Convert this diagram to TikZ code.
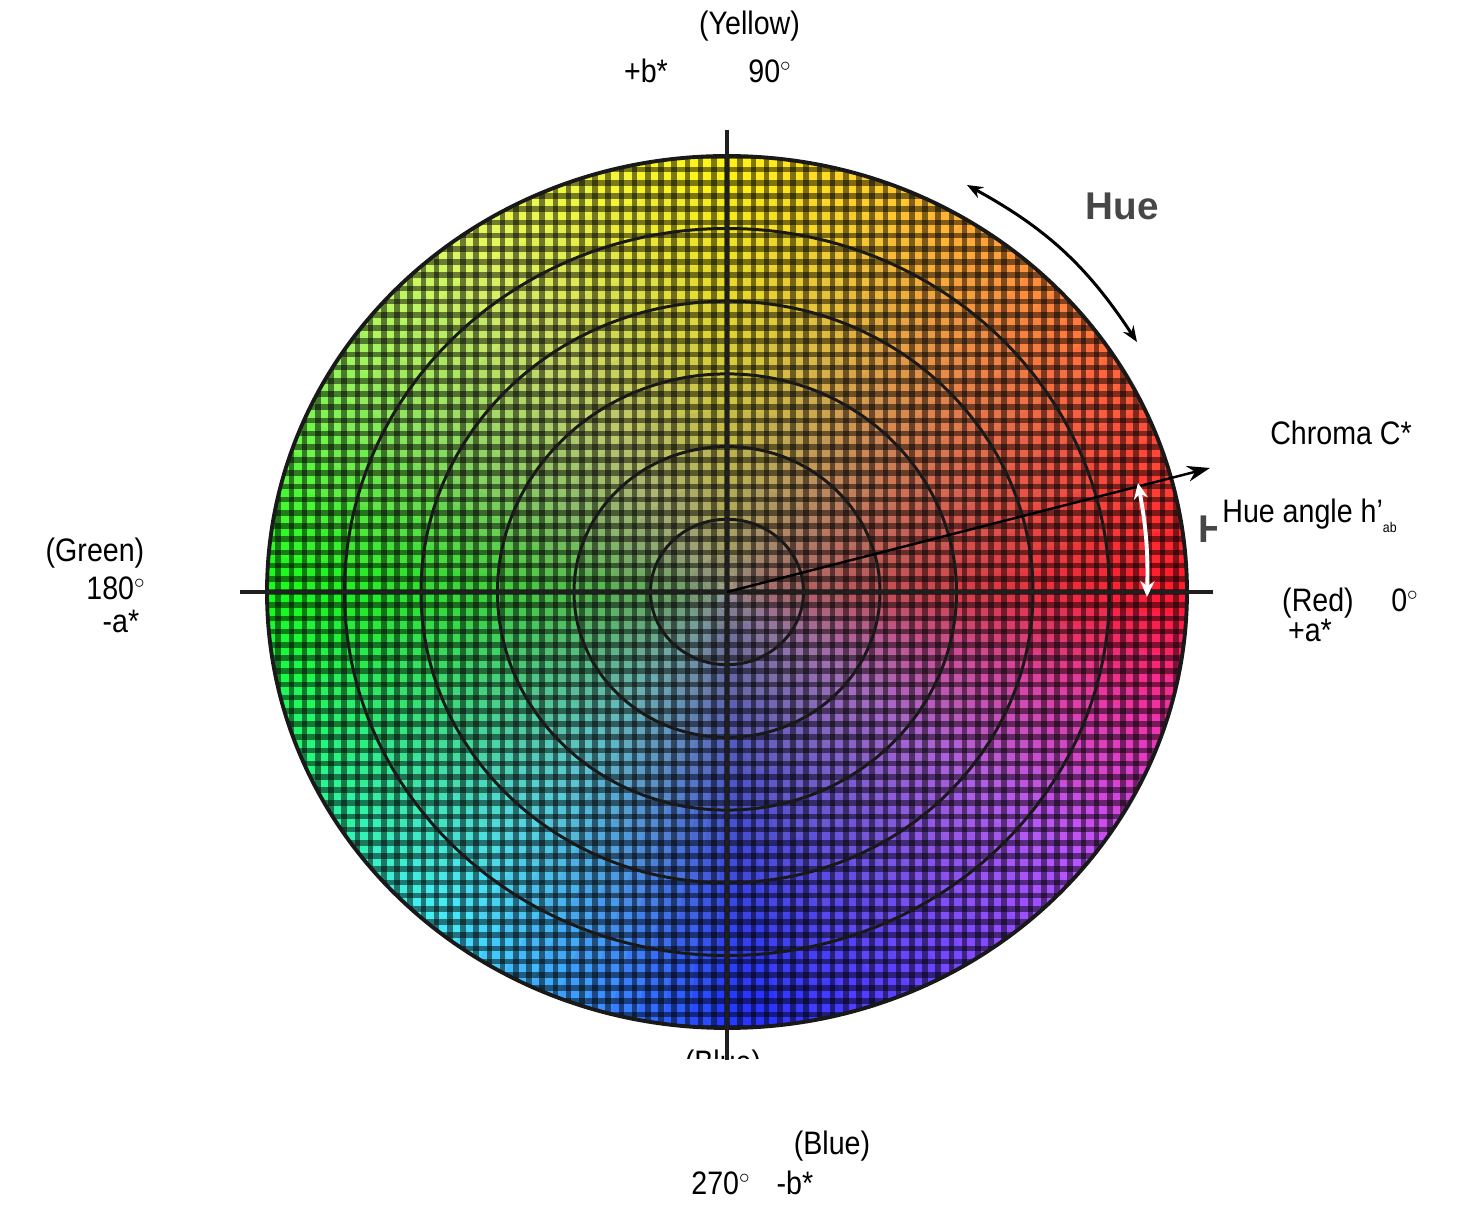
\documentclass[tikz,border=0pt]{standalone}
\usepackage{fontspec}
\setmainfont{Liberation Sans}
\newfontfamily\narrowsans[FakeStretch=0.88]{Liberation Sans}
\usetikzlibrary{arrows.meta}

\definecolor{hA}{RGB}{255,25,45}
\definecolor{hB}{RGB}{255,85,60}
\definecolor{hC}{RGB}{255,145,60}
\definecolor{hD}{RGB}{255,205,45}
\definecolor{hE}{RGB}{255,242,20}
\definecolor{hF}{RGB}{225,248,100}
\definecolor{hG}{RGB}{140,242,90}
\definecolor{hH}{RGB}{20,250,25}
\definecolor{hI}{RGB}{40,245,135}
\definecolor{hJ}{RGB}{70,236,250}
\definecolor{hK}{RGB}{60,150,255}
\definecolor{hL}{RGB}{35,50,255}
\definecolor{hM}{RGB}{110,70,255}
\definecolor{hN}{RGB}{190,85,255}
\definecolor{hO}{RGB}{240,50,170}
\definecolor{midgray}{RGB}{134,131,123}

\begin{document}
\begin{tikzpicture}[x=0.02cm,y=0.02cm,
    lbl/.style={font=\narrowsans\fontsize{18.5}{22}\selectfont,inner sep=0pt,anchor=base},
    huelbl/.style={font=\bfseries\fontsize{22}{24}\selectfont,text=black!72,inner sep=0pt,anchor=base},
    cellline/.style={black,opacity=.5,line width=3.1pt},
    ring/.style={black!90,line width=1.7pt},
    axis/.style={black!88,line width=2.2pt},
    >={Stealth[length=9pt,width=7pt]}]
\useasboundingbox (-727,-624) rectangle (741,592);
\coordinate (o) at (0,0);
% hue wedges, grey towards the middle
\foreach \aS/\aE/\cS/\cE in {0/25/hA/hB,25/48/hB/hC,48/70/hC/hD,70/90/hD/hE,90/125/hE/hF,125/152/hF/hG,152/180/hG/hH,180/205/hH/hI,205/230/hI/hJ,230/252/hJ/hK,252/272/hK/hL,272/298/hL/hM,298/322/hM/hN,322/343/hN/hO,343/360/hO/hA}
  \foreach \k in {0,...,5}{
    \pgfmathsetmacro\tA{\aS+(\aE-\aS)*\k/6}
    \pgfmathsetmacro\tB{\aS+(\aE-\aS)*(\k+1)/6+0.4}
    \pgfmathsetmacro\mix{100-100*(\k+0.5)/6}
    \colorlet{wc}{\cS!\mix!\cE}
    \foreach \j in {0,...,11}{
      \pgfmathsetmacro\ra{max(460*\j/12,0.5)}
      \pgfmathsetmacro\rb{0.948*\ra}
      \pgfmathsetmacro\rc{min(460*(\j+1)/12+2,460)}
      \pgfmathsetmacro\rd{0.948*\rc}
      \pgfmathsetmacro\p{100*((\j+1)/12)^0.75}
      \fill[wc!\p!midgray] (xyz polar cs:angle=\tA,x radius=\ra,y radius=\rb) -- (xyz polar cs:angle=\tA,x radius=\rc,y radius=\rd) arc[start angle=\tA,end angle=\tB,x radius=\rc,y radius=\rd] -- (xyz polar cs:angle=\tB,x radius=\ra,y radius=\rb) arc[start angle=\tB,end angle=\tA,x radius=\ra,y radius=\rb] -- cycle;
    }
  }
\begin{scope}
  \clip (o) ellipse[x radius=460,y radius=436];
  \foreach \g in {-35,...,35}{
    \draw[cellline] (\g*13.2,-440) -- (\g*13.2,440);
    \draw[cellline] (-465,\g*13.2) -- (465,\g*13.2);
  }
\end{scope}
\foreach \k in {1,...,5}
  \draw[ring] (o) ellipse[x radius=\k*76.5,y radius=\k*72.7];
\draw[ring,line width=2.2pt] (o) ellipse[x radius=460,y radius=436];

\coordinate (ntop) at (0,462);
\coordinate (nbot) at (0,-468);
\coordinate (wend) at (-487,0);
\coordinate (eend) at (486,0);
\draw[axis] (ntop) -- (nbot);
\draw[axis] (wend) -- (eend);

\coordinate (ctip) at (483,124);
\draw[->,line width=1.4pt,>={Stealth[length=13pt,width=9pt]}] (o) -- (ctip);
\coordinate (hbot) at (420,-5);
\coordinate (htop) at (411,109);
\draw[<->,white,line width=2.2pt,>={Stealth[length=9pt,width=8pt]}] (hbot) to[bend right=6] (htop);
\coordinate (hueA) at (240,407);
\coordinate (hueB) at (410,250);
\draw[<->,line width=1.7pt] (hueA) to[bend left=14] (hueB);

\node[lbl] (yellow) at (22.5,557) {(Yellow)};
\node[lbl] (pb) at (-81,509) {+b*};
\node[lbl] (d90) at (43,509) {90$^\circ$};
\node[huelbl] (hue) at (395,372) {Hue};
\node[lbl] (chroma) at (614,147) {Chroma C*};
\node[lbl,anchor=base west] (hangle) at (495,69) {Hue angle h’\raisebox{-.55ex}{\fontsize{8}{9}\selectfont ab}};
\node[lbl] (red) at (591,-20) {(Red)};
\node[lbl] (d0) at (678,-20) {0$^\circ$};
\node[lbl] (pa) at (583,-50) {+a*};
\node[lbl] (green) at (-632,30) {(Green)};
\node[lbl] (d180) at (-611,-8) {180$^\circ$};
\node[lbl] (ma) at (-606,-41) {-a*};
\node[lbl] (blue) at (105,-563) {(Blue)};
\node[lbl] (d270) at (-6,-603) {270$^\circ$};
\node[lbl] (mb) at (68,-603) {-b*};
\begin{scope}
  \clip (-60,-467) rectangle (60,-440);
  \node[lbl] (oldblue) at (-4,-482) {(Blue)};
\end{scope}
\begin{scope}
  \clip (465,40) rectangle (489,90);
  \node[huelbl,anchor=base west] (oldh) at (471.5,49) {H};
\end{scope}
\end{tikzpicture}
\end{document}
